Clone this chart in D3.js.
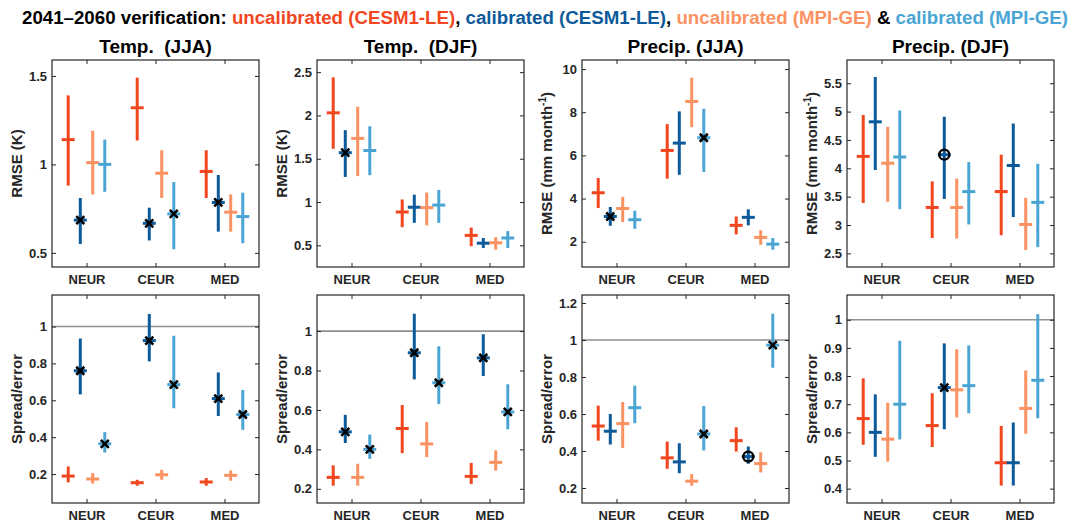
<!DOCTYPE html>
<html><head><meta charset="utf-8">
<script src="https://cdn.jsdelivr.net/npm/d3@7"></script>
<style>
body{margin:0;background:#fff}
text{font-family:"Liberation Sans",Arial,Helvetica,sans-serif}
</style>
</head><body>
<svg id="c" width="1073" height="525"></svg>
<script>
// ---------------- data ----------------
const regions = ["NEUR", "CEUR", "MED"];
const seriesLabels = ["uncalibrated (CESM1-LE)", "calibrated (CESM1-LE)", "uncalibrated (MPI-GE)", "calibrated (MPI-GE)"];
const seriesColors = ["#F2461F", "#0D5A9A", "#FB9262", "#4AA5D5"];
const seriesOffsets = [-0.265, -0.09, 0.09, 0.265];
const columnTitles = ["Temp.  (JJA)", "Temp.  (DJF)", "Precip. (JJA)", "Precip. (DJF)"];

// [series][region] = [median, low, high]
const rmseTempJJA = [
  [[1.14, 0.88, 1.39], [1.32, 1.135, 1.49], [0.96, 0.81, 1.08]],
  [[0.685, 0.55, 0.81], [0.667, 0.57, 0.755], [0.785, 0.62, 0.94]],
  [[1.01, 0.83, 1.19], [0.95, 0.81, 1.08], [0.73, 0.62, 0.83]],
  [[1.0, 0.845, 1.14], [0.72, 0.52, 0.9], [0.705, 0.555, 0.84]]
];
const rmseTempDJF = [
  [[2.03, 1.615, 2.44], [0.885, 0.71, 1.03], [0.615, 0.49, 0.705]],
  [[1.57, 1.29, 1.83], [0.94, 0.76, 1.085], [0.525, 0.47, 0.585]],
  [[1.735, 1.3, 2.1], [0.935, 0.73, 1.11], [0.53, 0.45, 0.595]],
  [[1.595, 1.31, 1.875], [0.965, 0.76, 1.14], [0.585, 0.47, 0.665]]
];
const rmsePrecJJA = [
  [[4.27, 3.56, 4.95], [6.23, 4.92, 7.45], [2.76, 2.34, 3.17]],
  [[3.17, 2.74, 3.61], [6.57, 5.1, 8.04], [3.13, 2.76, 3.5]],
  [[3.54, 2.91, 4.08], [8.5, 7.31, 9.6], [2.2, 1.86, 2.53]],
  [[3.02, 2.6, 3.44], [6.82, 5.23, 8.16], [1.89, 1.63, 2.17]]
];
const rmsePrecDJF = [
  [[4.21, 3.39, 4.94], [3.31, 2.77, 3.77], [3.59, 2.82, 4.24]],
  [[4.82, 3.97, 5.61], [4.24, 3.46, 4.91], [4.05, 3.14, 4.79]],
  [[4.09, 3.41, 4.73], [3.31, 2.76, 3.82], [3.01, 2.56, 3.48]],
  [[4.2, 3.28, 5.02], [3.59, 3.01, 4.11], [3.4, 2.61, 4.08]]
];
const ratioTempJJA = [
  [[0.189, 0.155, 0.241], [0.153, 0.137, 0.169], [0.157, 0.137, 0.178]],
  [[0.76, 0.632, 0.935], [0.924, 0.811, 1.068], [0.609, 0.515, 0.751]],
  [[0.173, 0.148, 0.205], [0.196, 0.169, 0.223], [0.193, 0.164, 0.22]],
  [[0.364, 0.317, 0.427], [0.685, 0.557, 0.95], [0.523, 0.44, 0.656]]
];
const ratioTempDJF = [
  [[0.258, 0.216, 0.319], [0.506, 0.381, 0.625], [0.263, 0.224, 0.331]],
  [[0.489, 0.432, 0.575], [0.89, 0.755, 1.088], [0.864, 0.772, 0.984]],
  [[0.258, 0.216, 0.327], [0.428, 0.361, 0.539], [0.334, 0.292, 0.395]],
  [[0.4, 0.352, 0.475], [0.738, 0.63, 0.923], [0.59, 0.502, 0.73]]
];
const ratioPrecJJA = [
  [[0.535, 0.456, 0.645], [0.363, 0.304, 0.451], [0.456, 0.397, 0.528]],
  [[0.507, 0.435, 0.6], [0.341, 0.28, 0.442], [0.37, 0.331, 0.424]],
  [[0.548, 0.417, 0.665], [0.237, 0.212, 0.275], [0.332, 0.284, 0.393]],
  [[0.634, 0.55, 0.753], [0.492, 0.403, 0.643], [0.972, 0.85, 1.142]]
];
const ratioPrecDJF = [
  [[0.649, 0.556, 0.792], [0.624, 0.548, 0.739], [0.492, 0.411, 0.623]],
  [[0.6, 0.513, 0.735], [0.759, 0.611, 0.916], [0.492, 0.411, 0.635]],
  [[0.576, 0.496, 0.705], [0.751, 0.653, 0.895], [0.685, 0.595, 0.82]],
  [[0.7, 0.575, 0.925], [0.766, 0.668, 0.909], [0.785, 0.65, 1.02]]
];

// markers: [series][region]  "x" = cross, "o" = circle
const markRmseTempJJA = [["", "", ""], ["x", "x", "x"], ["", "", ""], ["", "x", ""]];
const markRmseTempDJF = [["", "", ""], ["x", "", ""], ["", "", ""], ["", "", ""]];
const markRmsePrecJJA = [["", "", ""], ["x", "", ""], ["", "", ""], ["", "x", ""]];
const markRmsePrecDJF = [["", "", ""], ["", "o", ""], ["", "", ""], ["", "", ""]];
const markRatioTempJJA = [["", "", ""], ["x", "x", "x"], ["", "", ""], ["x", "x", "x"]];
const markRatioTempDJF = [["", "", ""], ["x", "x", "x"], ["", "", ""], ["x", "x", "x"]];
const markRatioPrecJJA = [["", "", ""], ["", "", "o"], ["", "", ""], ["", "x", "x"]];
const markRatioPrecDJF = [["", "", ""], ["", "x", ""], ["", "", ""], ["", "", ""]];

// y ranges and ticks
const yDomains = [[0.42, 1.59], [0.25, 2.64], [0.83, 10.42], [2.26, 5.91],
                  [0.043, 1.171], [0.128, 1.183], [0.119, 1.243], [0.349, 1.088]];
const yTicks = [[0.5, 1, 1.5], [0.5, 1, 1.5, 2, 2.5], [2, 4, 6, 8, 10], [2.5, 3, 3.5, 4, 4.5, 5, 5.5],
                [0.2, 0.4, 0.6, 0.8, 1], [0.2, 0.4, 0.6, 0.8, 1], [0.2, 0.4, 0.6, 0.8, 1, 1.2], [0.4, 0.5, 0.6, 0.7, 0.8, 0.9, 1]];
const referenceValue = 1;

// ---------------- drawing ----------------
const svg = d3.select("#c");
const AX = "#262626";
const panelLefts = [52, 317, 582, 847];
const panelW = 207;
const rowTops = [60, 295];
const rowH = [207, 208];

// main title
const title = svg.append("text").attr("x", 22).attr("y", 24)
  .attr("font-size", 18.7).attr("font-weight", "bold").attr("fill", "#000")
  .attr("textLength", 1046).attr("lengthAdjust", "spacingAndGlyphs")
  .style("white-space", "pre");
const titleParts = [
  ["2041\u20132060 verification: ", "#000"],
  [seriesLabels[0], seriesColors[0]], [", ", "#000"],
  [seriesLabels[1], seriesColors[1]], [", ", "#000"],
  [seriesLabels[2], seriesColors[2]], [" & ", "#000"],
  [seriesLabels[3], seriesColors[3]]
];
titleParts.forEach(([t, c]) => title.append("tspan").attr("fill", c).text(t));

const fmt = d => String(+d.toFixed(2));

function drawPanel(col, row, data, marks, domain, ticks, ylabel, showRef) {
  const left = panelLefts[col], top = rowTops[row], h = rowH[row];
  const x = d3.scaleLinear().domain([0.5, 3.5]).range([left, left + panelW]);
  const y = d3.scaleLinear().domain(domain).range([top + h, top]);
  const g = svg.append("g");

  if (showRef) {
    g.append("line").attr("x1", left).attr("x2", left + panelW)
      .attr("y1", y(referenceValue)).attr("y2", y(referenceValue))
      .attr("stroke", "#8f8f8f").attr("stroke-width", 1.6);
  }

  data.forEach((ser, s) => {
    ser.forEach((v, r) => {
      const cx = x(r + 1 + seriesOffsets[s]);
      const [mid, lo, hi] = v;
      g.append("line").attr("x1", cx).attr("x2", cx).attr("y1", y(lo)).attr("y2", y(hi))
        .attr("stroke", seriesColors[s]).attr("stroke-width", 3);
      g.append("line").attr("x1", cx - 6.5).attr("x2", cx + 6.5).attr("y1", y(mid)).attr("y2", y(mid))
        .attr("stroke", seriesColors[s]).attr("stroke-width", 3);
      const m = marks[s][r];
      if (m === "x") {
        const d = 4;
        g.append("path").attr("d", `M${cx - d},${y(mid) - d}L${cx + d},${y(mid) + d}M${cx - d},${y(mid) + d}L${cx + d},${y(mid) - d}`)
          .attr("stroke", "#000").attr("stroke-width", 2.6).attr("fill", "none");
      } else if (m === "o") {
        g.append("circle").attr("cx", cx).attr("cy", y(mid)).attr("r", 5)
          .attr("stroke", "#000").attr("stroke-width", 2.3).attr("fill", "none");
      }
    });
  });

  // axes
  const styleAxis = a => {
    a.select(".domain").remove();
    a.selectAll("line").attr("stroke", AX);
    a.attr("font-size", 13).attr("font-weight", "bold")
      .attr("font-family", '"Liberation Sans",Arial,sans-serif');
    a.selectAll("text").attr("fill", AX);
  };
  g.append("g").attr("transform", `translate(${left},0)`)
    .call(d3.axisLeft(y).tickValues(ticks).tickFormat(fmt).tickSizeInner(-4).tickSizeOuter(0).tickPadding(5))
    .call(styleAxis);
  g.append("g").attr("transform", `translate(${left + panelW},0)`)
    .call(d3.axisRight(y).tickValues(ticks).tickFormat("").tickSizeInner(-4).tickSizeOuter(0))
    .call(styleAxis);
  g.append("g").attr("transform", `translate(0,${top + h})`)
    .call(d3.axisBottom(x).tickValues([1, 2, 3]).tickFormat(i => regions[i - 1]).tickSizeInner(-4).tickSizeOuter(0).tickPadding(8))
    .call(styleAxis);
  g.append("g").attr("transform", `translate(0,${top})`)
    .call(d3.axisTop(x).tickValues([1, 2, 3]).tickFormat("").tickSizeInner(-4).tickSizeOuter(0))
    .call(styleAxis);

  g.append("rect").attr("x", left).attr("y", top).attr("width", panelW).attr("height", h)
    .attr("fill", "none").attr("stroke", AX).attr("stroke-width", 1.2);

  // y label
  const lab = g.append("text")
    .attr("transform", `translate(${left - 35},${top + h / 2}) rotate(-90)`)
    .attr("text-anchor", "middle").attr("font-size", 15).attr("font-weight", "bold").attr("fill", AX)
    .attr("dy", "0.35em");
  if (ylabel.sup) {
    lab.append("tspan").text(ylabel.text);
    lab.append("tspan").attr("font-size", 10).attr("dy", -6).text(ylabel.sup);
    lab.append("tspan").attr("dy", 6).text(")");
  } else {
    lab.text(ylabel.text);
  }

  if (row === 0) {
    svg.append("text").attr("x", left + panelW / 2).attr("y", 53)
      .attr("text-anchor", "middle").attr("font-size", 19).attr("font-weight", "bold")
      .attr("fill", "#000").style("white-space", "pre").text(columnTitles[col]);
  }
}

const labK = { text: "RMSE (K)" };
const labP = { text: "RMSE (mm month", sup: "-1" };
const labR = { text: "Spread/error" };

drawPanel(0, 0, rmseTempJJA, markRmseTempJJA, yDomains[0], yTicks[0], labK, false);
drawPanel(1, 0, rmseTempDJF, markRmseTempDJF, yDomains[1], yTicks[1], labK, false);
drawPanel(2, 0, rmsePrecJJA, markRmsePrecJJA, yDomains[2], yTicks[2], labP, false);
drawPanel(3, 0, rmsePrecDJF, markRmsePrecDJF, yDomains[3], yTicks[3], labP, false);
drawPanel(0, 1, ratioTempJJA, markRatioTempJJA, yDomains[4], yTicks[4], labR, true);
drawPanel(1, 1, ratioTempDJF, markRatioTempDJF, yDomains[5], yTicks[5], labR, true);
drawPanel(2, 1, ratioPrecJJA, markRatioPrecJJA, yDomains[6], yTicks[6], labR, true);
drawPanel(3, 1, ratioPrecDJF, markRatioPrecDJF, yDomains[7], yTicks[7], labR, true);
</script>
</body></html>
